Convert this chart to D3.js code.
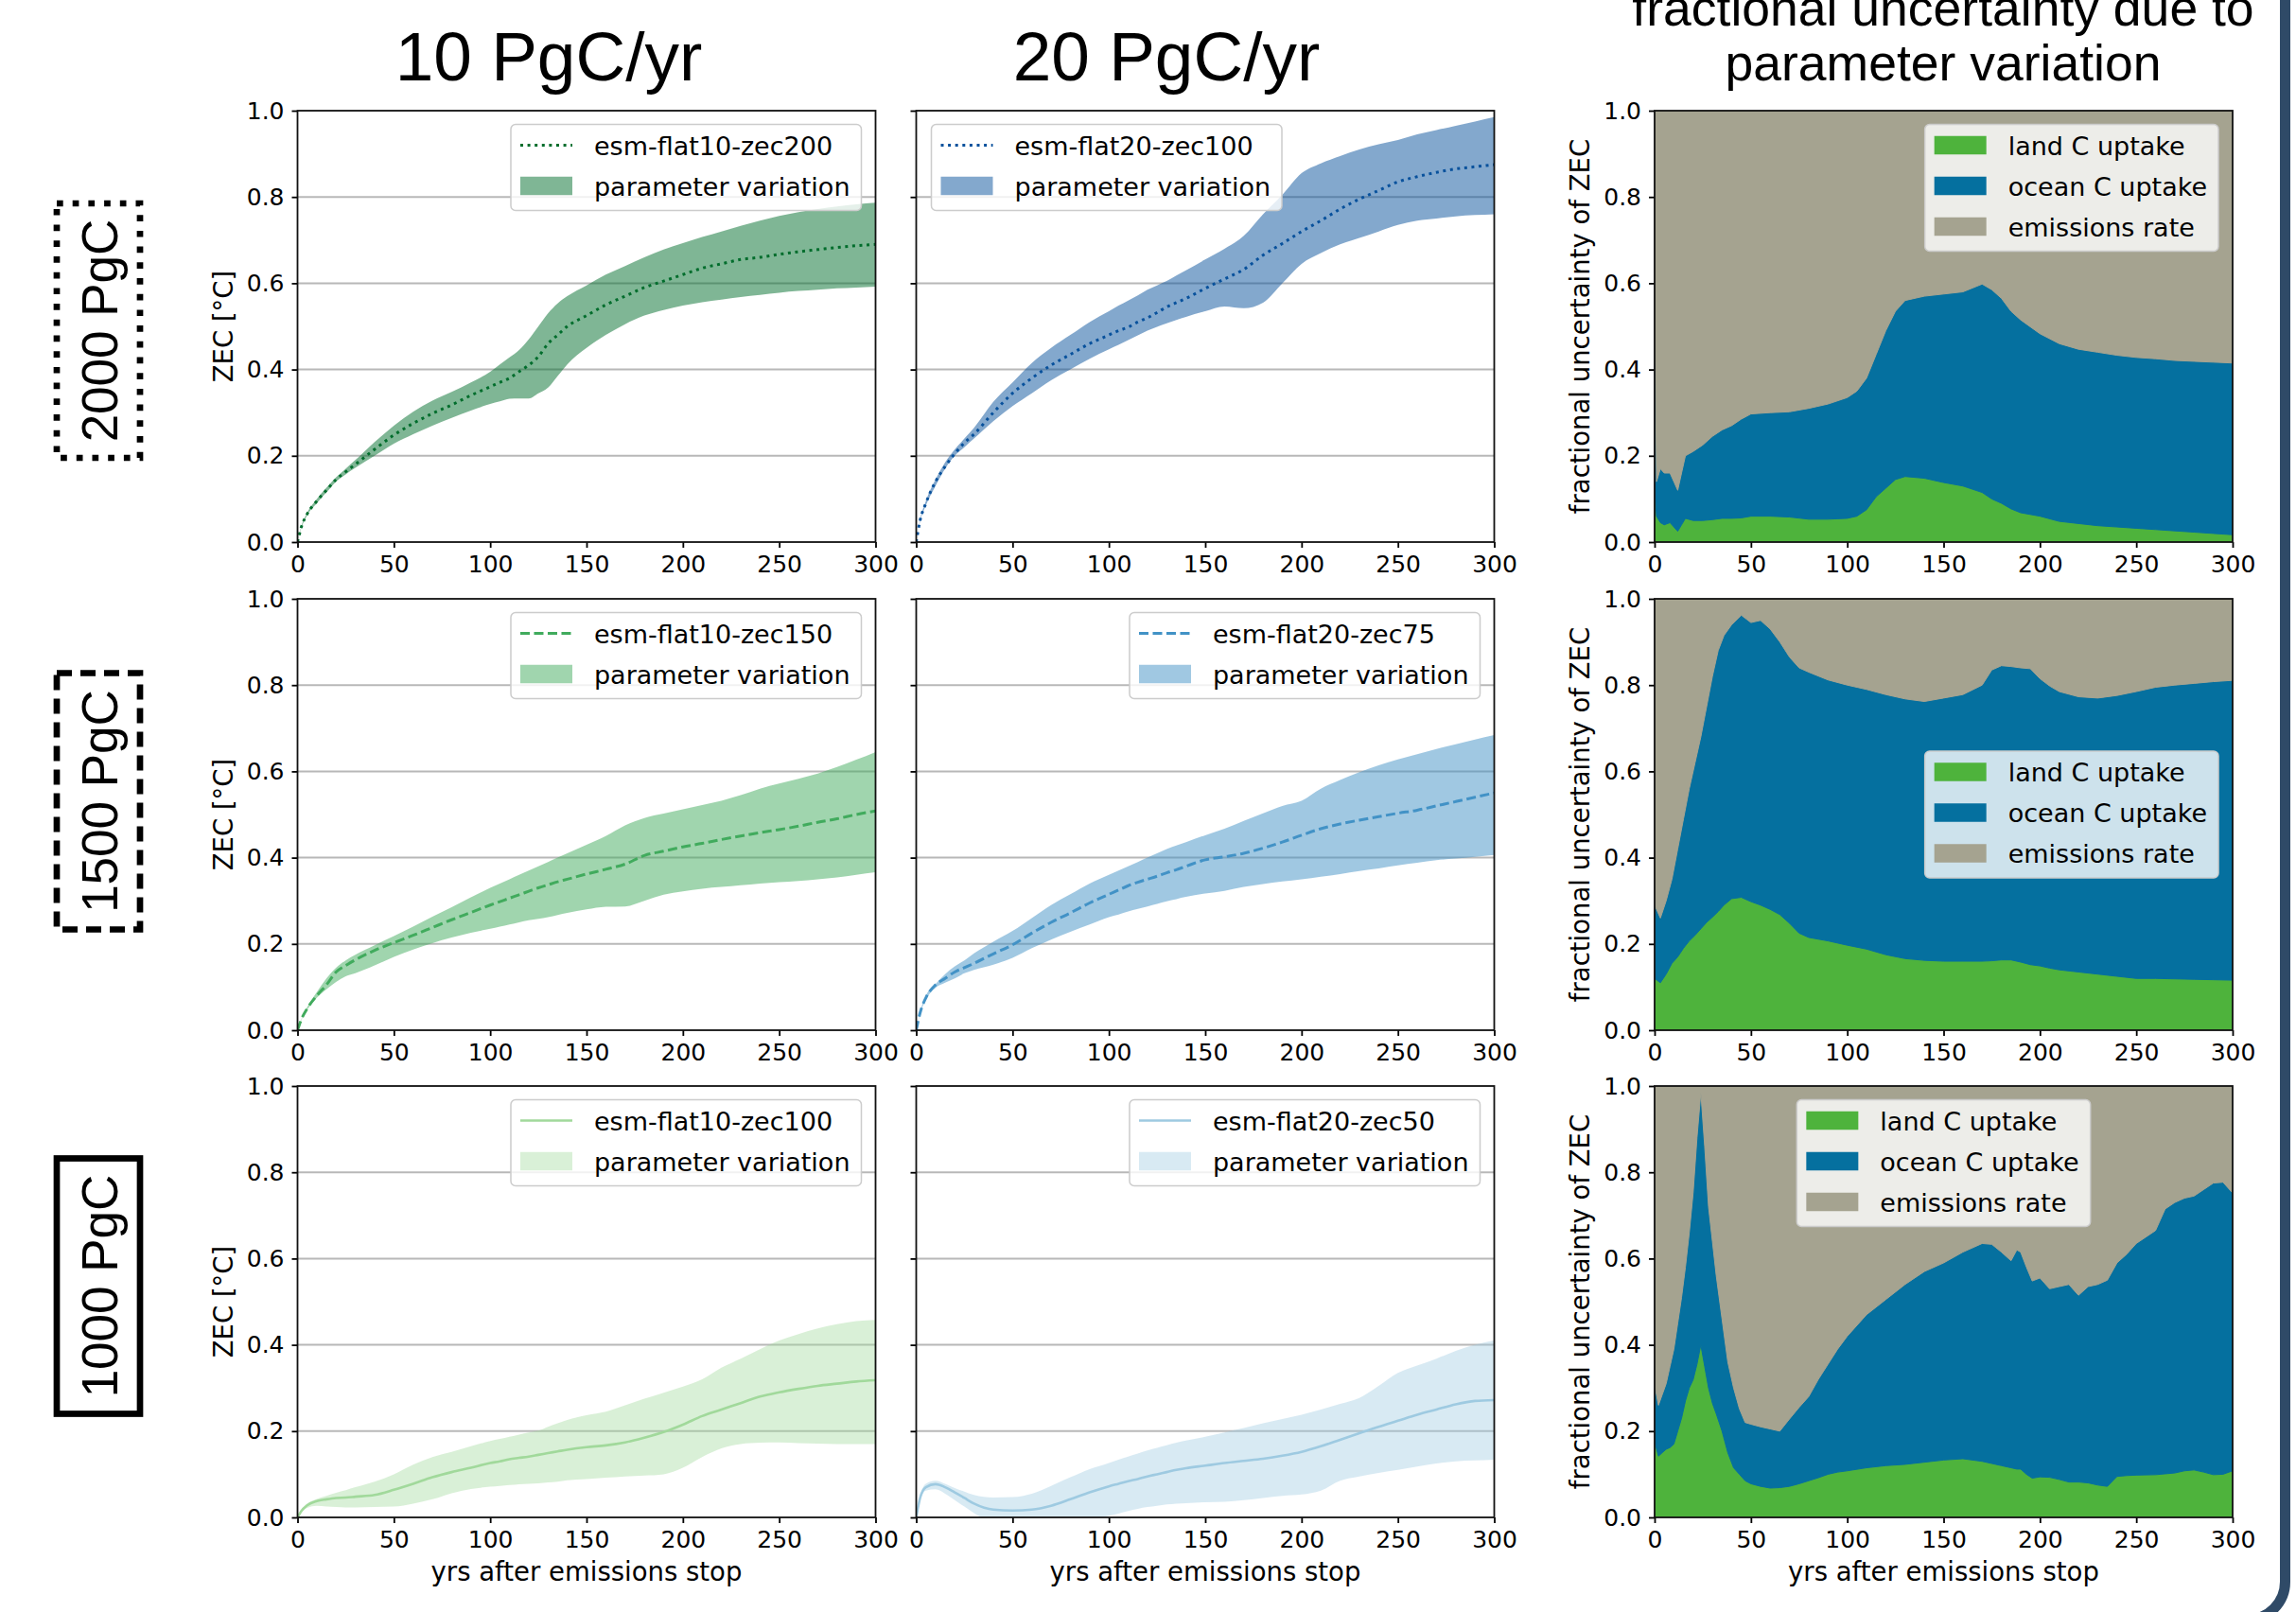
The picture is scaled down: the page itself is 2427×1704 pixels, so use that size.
<!DOCTYPE html>
<html>
<head>
<meta charset="utf-8">
<script src="https://cdn.jsdelivr.net/npm/d3@7"></script>
<style>
  html, body { margin: 0; padding: 0; background: #ffffff; }
  svg { display: block; }
</style>
</head>
<body>
<svg id="fig" width="2427" height="1704"></svg>
<script>
// ---------------------------------------------------------------
// Zero emissions commitment (ZEC) after emissions stop, with the
// spread from parameter variation, plus the fractional
// decomposition of that spread.
// ---------------------------------------------------------------

// Shared x sampling (years after emissions stop) for the ZEC panels
const years = [0,2,5,10,15,20,25,30,40,50,60,70,80,90,100,105,110,115,120,125,130,135,140,150,160,170,180,190,200,210,220,230,240,250,260,270,280,290,300];

// Tick labels
const xTicks = [0,50,100,150,200,250,300];
const yTicks = [0,0.2,0.4,0.6,0.8,1.0];
const gridTicks = [0.2,0.4,0.6,0.8];

// Column / row headings
const colTitles = ["10 PgC/yr", "20 PgC/yr"];
const col3Title = ["fractional uncertainty due to", "parameter variation"];
const rowLabels = ["2000 PgC", "1500 PgC", "1000 PgC"];

// --- 2000 PgC, 10 PgC/yr ---
const flat10zec200Mean  = [0,.035,.065,.095,.12,.145,.163,.18,.215,.248,.275,.298,.318,.34,.36,.37,.38,.395,.41,.43,.46,.48,.50,.525,.55,.57,.59,.605,.62,.635,.645,.655,.66,.667,.673,.678,.683,.687,.69];
const flat10zec200Upper = [0,.037,.068,.10,.126,.15,.17,.19,.232,.27,.302,.328,.348,.37,.395,.412,.428,.445,.47,.50,.53,.553,.57,.595,.62,.64,.66,.678,.693,.707,.72,.733,.745,.756,.765,.772,.778,.783,.787];
const flat10zec200Lower = [0,.033,.062,.09,.115,.14,.157,.172,.20,.228,.25,.27,.288,.305,.32,.326,.332,.333,.333,.345,.358,.385,.412,.45,.48,.505,.525,.538,.548,.556,.562,.568,.573,.578,.582,.585,.588,.59,.592];

// --- 2000 PgC, 20 PgC/yr ---
const flat20zec100Mean  = [0,.05,.09,.14,.175,.205,.23,.25,.30,.345,.38,.41,.435,.46,.48,.49,.498,.51,.52,.532,.545,.555,.565,.588,.61,.632,.665,.692,.72,.745,.772,.795,.815,.835,.847,.857,.865,.87,.875];
const flat20zec100Upper = [0,.052,.095,.145,.185,.215,.24,.265,.325,.37,.415,.45,.48,.51,.535,.548,.56,.572,.585,.595,.605,.618,.63,.655,.68,.71,.76,.805,.855,.878,.895,.91,.922,.932,.945,.955,.965,.975,.985];
const flat20zec100Lower = [0,.048,.085,.13,.17,.20,.22,.24,.28,.315,.345,.375,.40,.425,.447,.457,.468,.479,.49,.499,.507,.515,.522,.535,.546,.542,.555,.60,.645,.67,.69,.705,.72,.735,.745,.75,.755,.758,.76];

// --- 1500 PgC, 10 PgC/yr ---
const flat10zec150Mean  = [0,.025,.05,.08,.105,.135,.15,.163,.185,.203,.22,.238,.256,.273,.29,.298,.306,.314,.322,.33,.337,.344,.35,.362,.373,.385,.405,.415,.425,.433,.442,.45,.458,.465,.473,.482,.49,.50,.508];
const flat10zec150Upper = [0,.026,.053,.088,.12,.145,.162,.175,.197,.218,.24,.263,.285,.308,.33,.34,.35,.36,.37,.38,.39,.40,.41,.43,.45,.475,.492,.502,.512,.522,.532,.545,.56,.572,.583,.595,.61,.627,.645];
const flat10zec150Lower = [0,.024,.047,.075,.095,.112,.125,.132,.15,.17,.187,.202,.215,.226,.235,.24,.245,.25,.255,.258,.262,.267,.272,.28,.286,.287,.30,.314,.322,.328,.332,.336,.34,.343,.346,.35,.354,.36,.366];

// --- 1500 PgC, 20 PgC/yr ---
const flat20zec75Mean  = [0,.04,.075,.105,.12,.135,.145,.155,.177,.198,.225,.25,.272,.295,.315,.325,.335,.343,.35,.357,.365,.372,.38,.395,.402,.41,.422,.436,.452,.467,.478,.487,.495,.503,.51,.52,.53,.54,.55];
const flat20zec75Upper = [0,.042,.08,.107,.13,.148,.162,.178,.205,.23,.26,.29,.315,.34,.36,.37,.38,.39,.40,.41,.42,.428,.436,.452,.467,.485,.503,.52,.532,.56,.58,.598,.614,.628,.64,.652,.663,.674,.684];
const flat20zec75Lower = [0,.038,.07,.098,.11,.12,.132,.14,.152,.168,.19,.21,.228,.245,.262,.268,.275,.281,.287,.293,.299,.304,.309,.317,.323,.332,.339,.345,.35,.356,.362,.369,.375,.382,.388,.394,.398,.402,.406];

// --- 1000 PgC, 10 PgC/yr ---
const flat10zec100Mean  = [0,.015,.028,.038,.042,.045,.046,.048,.052,.064,.078,.093,.105,.115,.126,.13,.135,.138,.141,.145,.149,.153,.157,.163,.167,.174,.185,.198,.215,.235,.25,.265,.28,.29,.298,.305,.31,.315,.318];
const flat10zec100Upper = [0,.017,.032,.043,.05,.057,.063,.07,.083,.10,.122,.14,.152,.165,.177,.182,.187,.192,.197,.201,.21,.218,.226,.237,.245,.26,.275,.289,.303,.32,.347,.368,.39,.41,.425,.438,.448,.455,.458];
const flat10zec100Lower = [0,.012,.022,.027,.025,.024,.023,.023,.024,.025,.032,.042,.056,.066,.071,.073,.075,.077,.078,.079,.081,.083,.086,.089,.092,.095,.097,.10,.115,.14,.16,.17,.173,.174,.172,.171,.17,.17,.17];

// --- 1000 PgC, 20 PgC/yr ---
const flat20zec50Mean  = [0,.045,.07,.077,.07,.058,.045,.032,.018,.016,.018,.027,.042,.058,.072,.078,.084,.089,.095,.10,.105,.11,.114,.12,.126,.131,.136,.143,.152,.165,.18,.195,.21,.224,.238,.25,.262,.27,.272];
const flat20zec50Upper = [0,.05,.078,.085,.078,.068,.06,.052,.046,.047,.055,.073,.093,.112,.126,.134,.141,.148,.155,.161,.167,.173,.178,.187,.197,.207,.218,.228,.238,.25,.263,.277,.305,.335,.352,.368,.386,.40,.41];
const flat20zec50Lower = [0,.04,.062,.065,.055,.04,.025,.01,-.012,-.025,-.03,-.027,-.018,-.006,.004,.009,.015,.02,.024,.027,.03,.032,.033,.035,.036,.04,.045,.05,.053,.062,.085,.095,.103,.11,.118,.125,.13,.132,.134];

// --- Fractional uncertainty, 2000 PgC ---
const fracYears2000 = [0,1,3,5,8,10,12,14,16,20,25,30,35,40,45,50,60,70,80,90,100,105,110,115,120,125,130,140,150,160,170,175,180,185,190,200,210,220,230,240,250,260,270,280,290,300];
const land2000  = [.12,.06,.045,.04,.045,.035,.025,.04,.055,.05,.05,.052,.055,.055,.056,.06,.06,.058,.053,.053,.055,.06,.075,.105,.125,.145,.152,.148,.138,.13,.115,.10,.09,.077,.068,.06,.048,.043,.038,.035,.032,.029,.026,.023,.02,.017];
const ocean2000 = [.48,.08,.125,.12,.115,.105,.095,.12,.145,.16,.175,.193,.205,.215,.229,.237,.24,.244,.257,.267,.28,.29,.305,.33,.365,.39,.408,.422,.437,.45,.483,.485,.475,.458,.447,.423,.412,.404,.402,.398,.396,.396,.395,.396,.397,.398];
const emis2000  = [.40,.86,.83,.84,.84,.86,.88,.84,.80,.79,.775,.755,.74,.73,.715,.703,.70,.698,.69,.68,.665,.65,.62,.565,.51,.465,.44,.43,.425,.42,.402,.415,.435,.465,.485,.517,.54,.553,.56,.567,.572,.575,.579,.581,.583,.585];

// --- Fractional uncertainty, 1500 PgC ---
const fracYears1500 = [0,3,6,9,12,15,18,21,24,27,30,33,36,40,45,50,55,60,65,70,75,80,90,100,110,120,130,140,150,160,170,175,180,185,190,195,200,205,210,220,230,240,250,260,270,280,290,300];
const land1500  = [.12,.11,.13,.155,.17,.19,.207,.22,.235,.25,.262,.275,.29,.305,.308,.298,.29,.28,.268,.248,.225,.215,.207,.197,.188,.175,.166,.162,.16,.16,.16,.161,.163,.163,.158,.152,.149,.144,.14,.135,.13,.125,.12,.12,.119,.118,.117,.116];
const ocean1500 = [.17,.15,.17,.195,.25,.30,.353,.40,.445,.50,.558,.605,.625,.635,.654,.647,.66,.65,.632,.617,.615,.615,.605,.603,.602,.603,.602,.60,.61,.618,.64,.674,.682,.68,.682,.686,.666,.654,.645,.638,.64,.651,.665,.675,.681,.686,.691,.695];
const emis1500  = [.71,.74,.70,.65,.58,.51,.44,.38,.32,.25,.18,.12,.085,.06,.038,.055,.05,.07,.10,.135,.16,.17,.188,.20,.21,.222,.232,.238,.23,.222,.20,.165,.155,.157,.16,.162,.185,.202,.215,.227,.23,.224,.215,.205,.20,.196,.192,.189];

// --- Fractional uncertainty, 1000 PgC ---
const fracYears1000 = [0,2,4,6,8,10,12,14,16,18,20,22,24,26,28,30,32,35,38,41,44,47,50,55,60,65,70,75,80,85,90,95,100,110,120,130,140,150,160,170,175,180,185,188,190,193,196,200,205,210,215,220,225,230,235,240,245,250,260,265,270,275,280,285,290,295,300];
const land1000  = [.175,.142,.15,.158,.162,.17,.20,.23,.27,.30,.319,.355,.40,.35,.30,.265,.24,.20,.15,.115,.10,.085,.078,.072,.068,.069,.072,.078,.085,.092,.10,.105,.108,.115,.12,.123,.128,.133,.136,.13,.125,.12,.115,.112,.112,.10,.091,.094,.093,.088,.082,.082,.08,.075,.072,.095,.097,.098,.099,.101,.103,.108,.11,.105,.099,.10,.108];
const ocean1000 = [.132,.118,.135,.152,.188,.22,.25,.28,.31,.36,.433,.525,.585,.51,.42,.375,.32,.26,.21,.185,.152,.135,.138,.138,.137,.131,.156,.177,.195,.228,.255,.285,.312,.355,.385,.417,.442,.457,.479,.505,.508,.495,.48,.508,.503,.48,.457,.461,.437,.447,.458,.433,.455,.465,.478,.495,.513,.537,.566,.614,.627,.632,.635,.655,.676,.677,.644];
const emis1000  = [.693,.74,.715,.69,.65,.61,.55,.49,.42,.34,.248,.12,.015,.14,.28,.36,.44,.54,.64,.70,.748,.78,.784,.79,.795,.80,.772,.745,.72,.68,.645,.61,.58,.53,.495,.46,.43,.41,.385,.365,.367,.385,.405,.38,.385,.42,.452,.445,.47,.465,.46,.485,.465,.46,.45,.41,.39,.365,.335,.285,.27,.26,.255,.24,.225,.223,.248];

// Series names / legend texts
const bandLabel = "parameter variation";
const fracKeys = ["land", "ocean", "emis"];
const fracLabels = ["land C uptake", "ocean C uptake", "emissions rate"];
const fracColors = ["#4eb33c", "#05709f", "#a5a390"];

// ---------------------------------------------------------------
const FONT = "'DejaVu Sans', sans-serif";
const HEAD = "'Liberation Sans', Arial, Helvetica, sans-serif";

const svg = d3.select("#fig");
const colX = [314.5, 968.5, 1749];
const rowY = [117, 633, 1148];
const PW = 611, PH = 456;

const x = d3.scaleLinear().domain([0, 300]).range([0, PW]);
const y = d3.scaleLinear().domain([0, 1]).range([PH, 0]);

let clipCount = 0;

function panelGroup(r, c) {
  const g = svg.append("g").attr("transform", `translate(${colX[c]},${rowY[r]})`);
  const id = "clip" + (clipCount++);
  g.append("clipPath").attr("id", id)
    .append("rect").attr("width", PW).attr("height", PH);
  return { g, id };
}

function drawAxes(g, showYLabels) {
  const ya = d3.axisLeft(y).tickValues(yTicks)
    .tickFormat(showYLabels ? d3.format(".1f") : () => "")
    .tickSize(6).tickPadding(8).tickSizeOuter(0);
  const xa = d3.axisBottom(x).tickValues(xTicks)
    .tickFormat(d3.format("d"))
    .tickSize(6).tickPadding(8).tickSizeOuter(0);
  const gy = g.append("g").call(ya);
  const gx = g.append("g").attr("transform", `translate(0,${PH})`).call(xa);
  [gy, gx].forEach(a => {
    a.select(".domain").remove();
    a.attr("font-family", FONT).attr("font-size", 25);
    a.selectAll("text").attr("fill", "#000");
    a.selectAll("line").attr("stroke", "#000").attr("stroke-width", 1.8);
  });
  g.append("rect").attr("width", PW).attr("height", PH)
    .attr("fill", "none").attr("stroke", "#111").attr("stroke-width", 1.8);
}

function yTitle(g, text) {
  g.append("text")
    .attr("transform", `translate(-69,${PH / 2}) rotate(-90)`)
    .attr("text-anchor", "middle")
    .attr("font-family", FONT).attr("font-size", 27.5)
    .attr("fill", "#000")
    .text(text);
}

function xTitle(g) {
  g.append("text")
    .attr("x", PW / 2).attr("y", PH + 67)
    .attr("text-anchor", "middle")
    .attr("font-family", FONT).attr("font-size", 27.5)
    .attr("fill", "#000")
    .text("yrs after emissions stop");
}

// items: {kind:'line'|'patch', color, dash, width, opacity, label}
function legend(g, items, loc) {
  const padL = 10, hw = 55, gap = 23, padR = 12, top0 = 22, pitch = 43, padB = 26;
  const lg = g.append("g");
  const box = lg.append("rect")
    .attr("rx", 5).attr("ry", 5)
    .attr("fill", "#ffffff").attr("fill-opacity", 0.8)
    .attr("stroke", "#cccccc").attr("stroke-width", 1.5);
  const texts = [];
  items.forEach((it, i) => {
    const cy = top0 + i * pitch;
    if (it.kind === "line") {
      lg.append("line")
        .attr("x1", padL).attr("x2", padL + hw)
        .attr("y1", cy).attr("y2", cy)
        .attr("stroke", it.color).attr("stroke-width", it.width)
        .attr("stroke-dasharray", it.dash || null);
    } else {
      lg.append("rect")
        .attr("x", padL).attr("y", cy - 9.75)
        .attr("width", hw).attr("height", 19.5)
        .attr("fill", it.color).attr("fill-opacity", it.opacity);
    }
    texts.push(lg.append("text")
      .attr("x", padL + hw + gap).attr("y", cy + 10)
      .attr("font-family", FONT).attr("font-size", 27)
      .attr("fill", "#000")
      .text(it.label));
  });
  const tw = d3.max(texts, t => t.node().getComputedTextLength());
  const w = padL + hw + gap + tw + padR;
  const h = top0 + (items.length - 1) * pitch + padB;
  box.attr("width", w).attr("height", h);
  let lx = PW - 15 - w, ly = 14.5;
  if (loc === "upper left") lx = 16;
  if (loc === "upper center") lx = (PW - w) / 2;
  if (loc === "center right") ly = (PH - h) / 2;
  lg.attr("transform", `translate(${lx},${ly})`);
}

function zecPanel(r, c, s) {
  const { g, id } = panelGroup(r, c);
  // horizontal grid
  g.append("g").selectAll("line").data(gridTicks).join("line")
    .attr("x1", 0).attr("x2", PW)
    .attr("y1", d => y(d)).attr("y2", d => y(d))
    .attr("stroke", "#b8b8b8").attr("stroke-width", 2);

  const rows = years.map((yr, i) => ({ yr, m: s.mean[i], lo: s.lower[i], hi: s.upper[i] }));
  const body = g.append("g").attr("clip-path", `url(#${id})`);
  body.append("path").datum(rows)
    .attr("d", d3.area().x(d => x(d.yr)).y0(d => y(d.lo)).y1(d => y(d.hi)).curve(d3.curveMonotoneX))
    .attr("fill", s.color).attr("fill-opacity", s.bandOpacity);
  body.append("path").datum(rows)
    .attr("d", d3.line().x(d => x(d.yr)).y(d => y(d.m)).curve(d3.curveMonotoneX))
    .attr("fill", "none").attr("stroke", s.color)
    .attr("stroke-width", s.width)
    .attr("stroke-dasharray", s.dash || null);

  drawAxes(g, c === 0);
  if (c === 0) yTitle(g, "ZEC [°C]");
  if (r === 2) xTitle(g);
  legend(g, [
    { kind: "line", color: s.color, dash: s.dash, width: s.width, label: s.name },
    { kind: "patch", color: s.color, opacity: s.bandOpacity, label: bandLabel }
  ], s.loc);
}

function fracPanel(r, s) {
  const { g, id } = panelGroup(r, 2);
  const rows = s.years.map((yr, i) => ({ yr, land: s.land[i], ocean: s.ocean[i], emis: s.emis[i] }));
  const series = d3.stack().keys(fracKeys)(rows);
  const body = g.append("g").attr("clip-path", `url(#${id})`);
  body.append("rect").attr("width", PW).attr("height", PH).attr("fill", fracColors[2]);
  const area = d3.area().x(d => x(d.data.yr)).y0(d => y(d[0])).y1(d => y(d[1]));
  body.selectAll("path.layer").data(series).join("path")
    .attr("class", "layer")
    .attr("d", area)
    .attr("fill", (d, i) => fracColors[i])
    .attr("stroke", (d, i) => fracColors[i])
    .attr("stroke-width", 1);
  drawAxes(g, true);
  yTitle(g, "fractional uncertainty of ZEC");
  if (r === 2) xTitle(g);
  legend(g, fracLabels.map((lab, i) => ({ kind: "patch", color: fracColors[i], opacity: 1, label: lab })), s.loc);
}

// ---- ZEC panels ----
const DOT = "3,4.6", DASH = "10,4.5";
zecPanel(0, 0, { mean: flat10zec200Mean, upper: flat10zec200Upper, lower: flat10zec200Lower,
  color: "#006d2c", bandOpacity: 0.5, dash: DOT, width: 3, name: "esm-flat10-zec200", loc: "upper right" });
zecPanel(0, 1, { mean: flat20zec100Mean, upper: flat20zec100Upper, lower: flat20zec100Lower,
  color: "#08519c", bandOpacity: 0.5, dash: DOT, width: 3, name: "esm-flat20-zec100", loc: "upper left" });
zecPanel(1, 0, { mean: flat10zec150Mean, upper: flat10zec150Upper, lower: flat10zec150Lower,
  color: "#41ab5d", bandOpacity: 0.5, dash: DASH, width: 3, name: "esm-flat10-zec150", loc: "upper right" });
zecPanel(1, 1, { mean: flat20zec75Mean, upper: flat20zec75Upper, lower: flat20zec75Lower,
  color: "#4292c6", bandOpacity: 0.5, dash: DASH, width: 3, name: "esm-flat20-zec75", loc: "upper right" });
zecPanel(2, 0, { mean: flat10zec100Mean, upper: flat10zec100Upper, lower: flat10zec100Lower,
  color: "#a1d99b", bandOpacity: 0.4, dash: null, width: 2.6, name: "esm-flat10-zec100", loc: "upper right" });
zecPanel(2, 1, { mean: flat20zec50Mean, upper: flat20zec50Upper, lower: flat20zec50Lower,
  color: "#9ecae1", bandOpacity: 0.4, dash: null, width: 2.6, name: "esm-flat20-zec50", loc: "upper right" });

// ---- fractional uncertainty panels ----
fracPanel(0, { years: fracYears2000, land: land2000, ocean: ocean2000, emis: emis2000, loc: "upper right" });
fracPanel(1, { years: fracYears1500, land: land1500, ocean: ocean1500, emis: emis1500, loc: "center right" });
fracPanel(2, { years: fracYears1000, land: land1000, ocean: ocean1000, emis: emis1000, loc: "upper center" });

// ---- column headings ----
[580, 1233].forEach((cx, i) => {
  svg.append("text").attr("x", cx).attr("y", 85)
    .attr("text-anchor", "middle")
    .attr("font-family", HEAD).attr("font-size", 73)
    .attr("fill", "#000").text(colTitles[i]);
});
col3Title.forEach((t, i) => {
  svg.append("text").attr("x", 2054).attr("y", 27 + i * 57.5)
    .attr("text-anchor", "middle")
    .attr("font-family", HEAD).attr("font-size", 53.5)
    .attr("fill", "#000").text(t);
});

// ---- row labels in boxes ----
const rowBoxes = [
  { y: 215, h: 269, dash: "6.7,10" },
  { y: 711.5, h: 271, dash: "16,9" },
  { y: 1224.5, h: 270, dash: null }
];
rowBoxes.forEach((b, i) => {
  svg.append("rect").attr("x", 60).attr("y", b.y).attr("width", 88).attr("height", b.h)
    .attr("fill", "none").attr("stroke", "#000").attr("stroke-width", 6.7)
    .attr("stroke-dasharray", b.dash);
  svg.append("text")
    .attr("transform", `translate(124,${b.y + b.h / 2}) rotate(-90)`)
    .attr("text-anchor", "middle")
    .attr("font-family", HEAD).attr("font-size", 53)
    .attr("fill", "#000").text(rowLabels[i]);
});

// ---- slide frame edge at the right ----
svg.append("path")
  .attr("d", "M2415.5,-20 L2415.5,1672 A40,40 0 0 1 2375.5,1712 L-20,1712")
  .attr("fill", "none").attr("stroke", "#2f4a67").attr("stroke-width", 11);
</script>
</body>
</html>
